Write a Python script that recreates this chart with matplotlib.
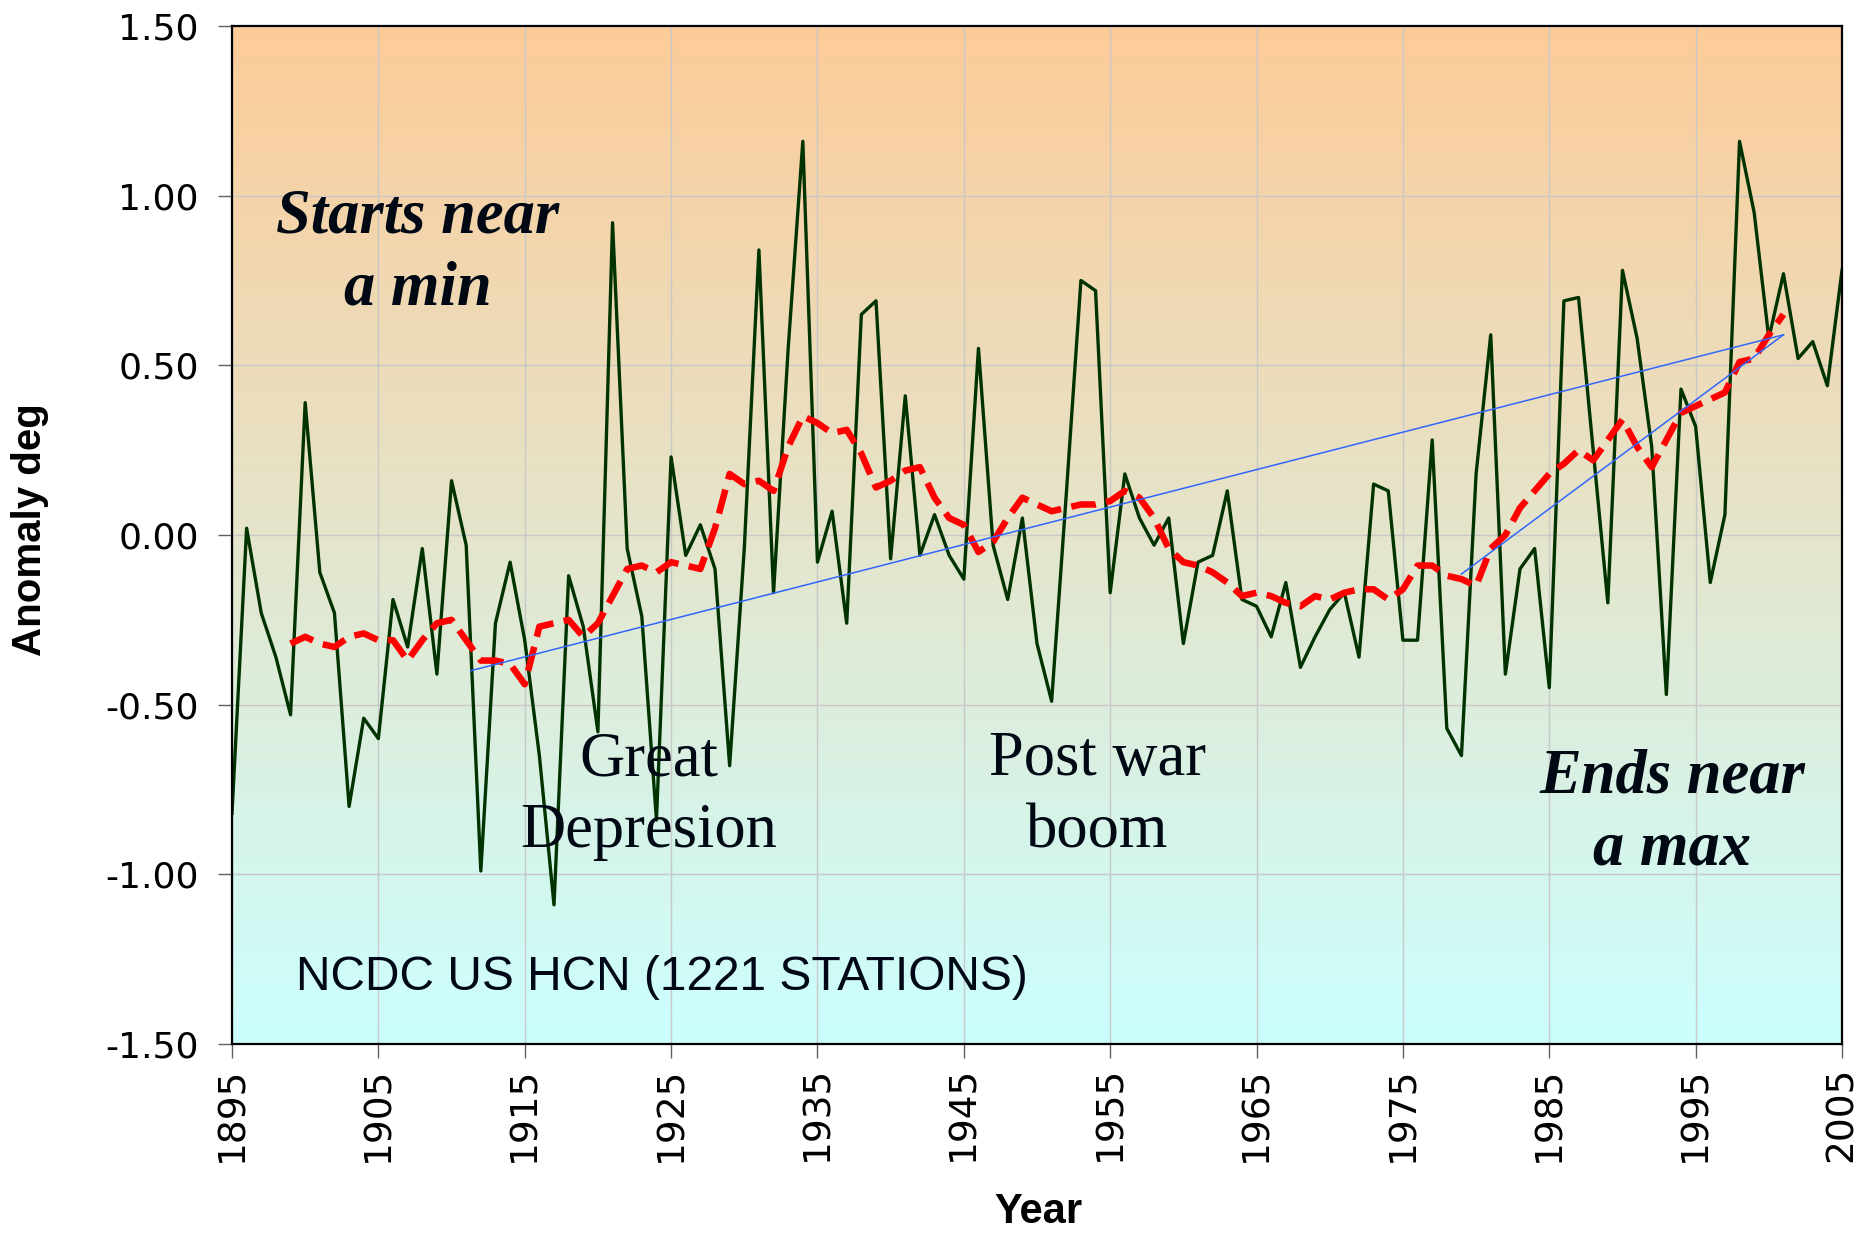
import numpy as np
import matplotlib
matplotlib.use("Agg")
import matplotlib.pyplot as plt
from matplotlib.colors import LinearSegmentedColormap

# annual anomaly, 1895-2005
years = list(range(1895, 2006))
anomaly = [
    -0.82, 0.02, -0.23, -0.36, -0.53, 0.39, -0.11, -0.23, -0.80, -0.54,
    -0.60, -0.19, -0.33, -0.04, -0.41, 0.16, -0.03, -0.99, -0.26, -0.08,
    -0.31, -0.65, -1.09, -0.12, -0.27, -0.58, 0.92, -0.04, -0.24, -0.84,
    0.23, -0.06, 0.03, -0.10, -0.68, -0.04, 0.84, -0.17, 0.55, 1.16,
    -0.08, 0.07, -0.26, 0.65, 0.69, -0.07, 0.41, -0.06, 0.06, -0.06,
    -0.13, 0.55, -0.03, -0.19, 0.05, -0.32, -0.49, 0.12, 0.75, 0.72,
    -0.17, 0.18, 0.05, -0.03, 0.05, -0.32, -0.08, -0.06, 0.13, -0.19,
    -0.21, -0.30, -0.14, -0.39, -0.30, -0.22, -0.17, -0.36, 0.15, 0.13,
    -0.31, -0.31, 0.28, -0.57, -0.65, 0.18, 0.59, -0.41, -0.10, -0.04,
    -0.45, 0.69, 0.70, 0.25, -0.20, 0.78, 0.58, 0.26, -0.47, 0.43,
    0.32, -0.14, 0.06, 1.16, 0.95, 0.58, 0.77, 0.52, 0.57, 0.44,
    0.78,
]

# smoothed curve (red dashed), 1899-2001
smooth_years = list(range(1899, 2002))
smooth = [
    -0.32, -0.30, -0.32, -0.33, -0.30, -0.29, -0.31, -0.31, -0.37, -0.31,
    -0.26, -0.25, -0.31, -0.37, -0.37, -0.38, -0.44, -0.27, -0.26, -0.25,
    -0.30, -0.26, -0.18, -0.10, -0.09, -0.11, -0.08, -0.09, -0.10, 0.02,
    0.18, 0.15, 0.16, 0.13, 0.26, 0.35, 0.33, 0.30, 0.31, 0.24,
    0.14, 0.16, 0.19, 0.20, 0.11, 0.05, 0.03, -0.05, -0.02, 0.05,
    0.11, 0.09, 0.07, 0.08, 0.09, 0.09, 0.10, 0.13, 0.11, 0.05,
    -0.04, -0.08, -0.09, -0.11, -0.14, -0.18, -0.17, -0.18, -0.20, -0.21,
    -0.18, -0.19, -0.17, -0.16, -0.16, -0.19, -0.16, -0.09, -0.09, -0.12,
    -0.13, -0.15, -0.04, 0.00, 0.08, 0.13, 0.18, 0.21, 0.25, 0.22,
    0.28, 0.34, 0.26, 0.20, 0.28, 0.36, 0.38, 0.40, 0.42, 0.51,
    0.52, 0.59, 0.65,
]

# two blue trend lines (end points)
trend_long_x = [1911.3, 2001.0]
trend_long_y = [-0.40, 0.59]
trend_short_x = [1979.0, 2001.0]
trend_short_y = [-0.115, 0.59]

xtick_years = list(range(1895, 2006, 10))
xtick_labels = [str(y) for y in xtick_years]
ytick_values = [-1.5, -1.0, -0.5, 0.0, 0.5, 1.0, 1.5]
ytick_labels = ["-1.50", "-1.00", "-0.50", "0.00", "0.50", "1.00", "1.50"]

fig = plt.figure(figsize=(18.6, 12.37), dpi=100)
ax = fig.add_axes([232 / 1860, 1 - 1044 / 1237, 1610 / 1860, 1018 / 1237])

# background gradient: light cyan at bottom, peach at top
bg = LinearSegmentedColormap.from_list("bg", ["#CCFFFF", "#FDCB98"])
ax.imshow(np.linspace(0, 1, 256).reshape(-1, 1), extent=[1895, 2005, -1.5, 1.5],
          origin="lower", aspect="auto", cmap=bg, zorder=0)

ax.plot(years, anomaly, color="#003300", lw=2.4, zorder=3)
ax.plot(smooth_years, smooth, color="#FF0000", lw=4.7, dashes=(3.8, 1.6), zorder=4)
ax.plot(trend_long_x, trend_long_y, color="#3366FF", lw=1.1, zorder=5)
ax.plot(trend_short_x, trend_short_y, color="#3366FF", lw=1.1, zorder=5)

ax.set_xlim(1895, 2005)
ax.set_ylim(-1.5, 1.5)
ax.set_xticks(xtick_years)
ax.set_xticklabels(xtick_labels, rotation=90, fontsize=27, family="DejaVu Sans")
ax.set_yticks(ytick_values)
ax.set_yticklabels(ytick_labels, fontsize=26, family="DejaVu Sans")
ax.tick_params(axis="y", direction="out", length=10, width=1, color="#606060", pad=14)
ax.tick_params(axis="x", direction="out", length=10, width=1, color="#606060", pad=6)
ax.grid(True, color="#C8C8C8", lw=1)
ax.set_axisbelow(True)
for s in ax.spines.values():
    s.set_linewidth(1.6)
    s.set_color("black")
    s.set_zorder(6)

note_kw = dict(family="Liberation Serif", fontsize=45, ha="center", va="center",
               color="#000814", linespacing=1.32, zorder=7)
ax.text(1907.7, 0.83, "Starts near\na min", weight="bold", style="italic", **note_kw)
ax.text(1923.5, -0.77, "Great\nDepresion", **note_kw)
ax.text(1954.1, -0.77, "Post war\nboom", **note_kw)
ax.text(1993.4, -0.82, "Ends near\na max", weight="bold", style="italic", **note_kw)
ax.text(1899.4, -1.34, "NCDC US HCN (1221 STATIONS)", family="Liberation Sans",
        fontsize=34.5, ha="left", va="baseline", color="#000818", zorder=7)

fig.text(30 / 1860, 1 - 530 / 1237, "Anomaly deg", rotation=90, ha="center", va="center",
         family="Liberation Sans", weight="bold", fontsize=29)
fig.text(1038 / 1860, 1 - 1212 / 1237, "Year", ha="center", va="center",
         family="Liberation Sans", weight="bold", fontsize=30)

fig.savefig("out.png", dpi=100)
